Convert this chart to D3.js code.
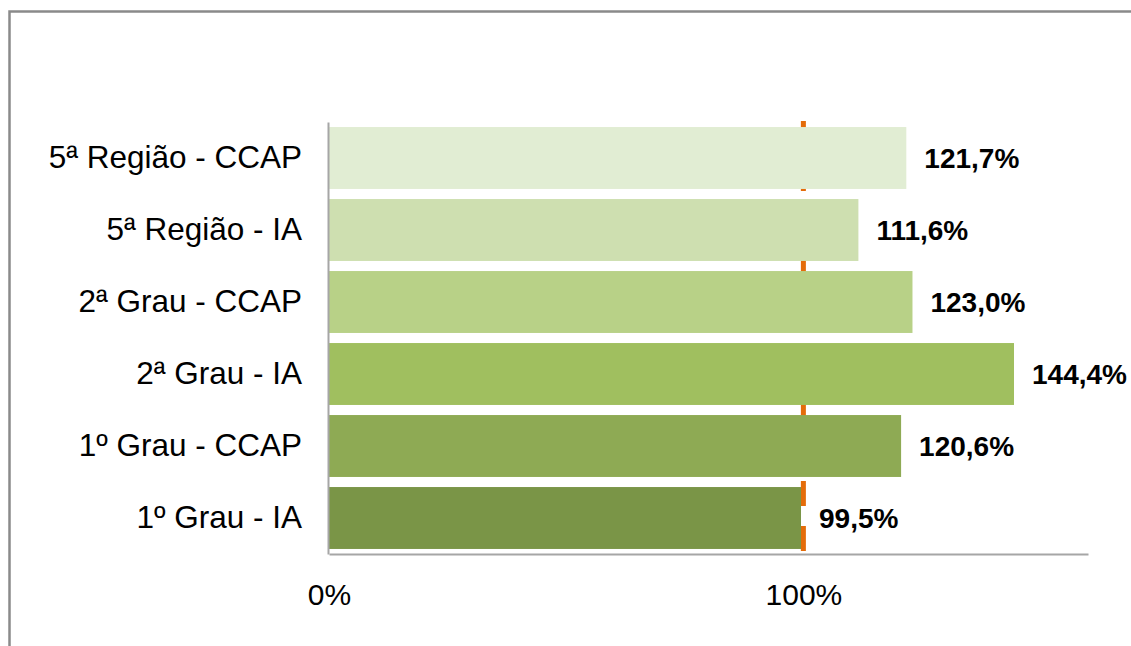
<!DOCTYPE html>
<html>
<head>
<meta charset="utf-8">
<script src="https://cdn.jsdelivr.net/npm/d3@7"></script>
<style>
  body { margin: 0; background: #fff; }
  svg { display: block; font-family: Arial, "Liberation Sans", sans-serif; }
</style>
</head>
<body>
<div id="chart"></div>
<script>
// Chart data
var categories = ["5ª Região - CCAP", "5ª Região - IA", "2ª Grau - CCAP", "2ª Grau - IA", "1º Grau - CCAP", "1º Grau - IA"];
var values = [121.7, 111.6, 123.0, 144.4, 120.6, 99.5];
var barColors = ["#e1edd3", "#cedfb0", "#b8d187", "#a0bf5f", "#8eaa54", "#7a9547"];
var tickValues = [0, 100];
var targetValue = 100;

var svgWidth = 1131;
var svgHeight = 646;

var svg = d3.select("#chart")
  .append("svg")
  .attr("width", svgWidth)
  .attr("height", svgHeight);

// outer frame (right and bottom edges fall outside the picture)
svg.append("rect")
  .attr("x", 9.5)
  .attr("y", 11.5)
  .attr("width", svgWidth + 20)
  .attr("height", svgHeight + 20)
  .attr("fill", "none")
  .attr("stroke", "#8a8a8a")
  .attr("stroke-width", 2.5);

var xScale = d3.scaleLinear()
  .domain([0, 160])
  .range([329, 1088]);

var yScale = d3.scaleBand()
  .domain(categories)
  .range([122, 554])
  .paddingInner(0.14)
  .paddingOuter(0.07);

// 100% reference line, behind the bars
svg.append("line")
  .attr("x1", xScale(targetValue))
  .attr("x2", xScale(targetValue))
  .attr("y1", 121)
  .attr("y2", 552)
  .attr("stroke", "#e46c0a")
  .attr("stroke-width", 5)
  .attr("stroke-dasharray", "25,20");

// bars
svg.selectAll(".bar")
  .data(values)
  .enter()
  .append("rect")
  .attr("class", "bar")
  .attr("x", xScale(0))
  .attr("y", (d, i) => yScale(categories[i]))
  .attr("width", d => xScale(d) - xScale(0))
  .attr("height", yScale.bandwidth())
  .attr("fill", (d, i) => barColors[i]);

// value labels
svg.selectAll(".val")
  .data(values)
  .enter()
  .append("text")
  .attr("class", "val")
  .attr("x", d => xScale(d) + 18)
  .attr("y", (d, i) => yScale(categories[i]) + yScale.bandwidth() / 2)
  .attr("dy", "0.36em")
  .attr("font-size", 28)
  .attr("font-weight", "bold")
  .attr("fill", "#000")
  .text(d => d3.format(".1f")(d).replace(".", ",") + "%");

// axes
var leftAxis = d3.axisLeft(yScale).tickSize(0).tickPadding(26);
var bottomAxis = d3.axisBottom(xScale)
  .tickValues(tickValues)
  .tickSize(0)
  .tickPadding(30)
  .tickFormat(d => d + "%");

var gy = svg.append("g")
  .attr("transform", `translate(${xScale(0) - 1}, 0)`)
  .call(leftAxis);
gy.select(".domain").attr("stroke", "#a6a6a6").attr("stroke-width", 2);
gy.selectAll("text").attr("font-size", 31.5).attr("fill", "#000").attr("font-family", "Arial, 'Liberation Sans', sans-serif");

var gx = svg.append("g")
  .attr("transform", `translate(0, 554)`)
  .call(bottomAxis);
gx.select(".domain").attr("stroke", "#a6a6a6").attr("stroke-width", 2);
gx.selectAll("text").attr("font-size", 30).attr("fill", "#000").attr("font-family", "Arial, 'Liberation Sans', sans-serif");
</script>
</body>
</html>
